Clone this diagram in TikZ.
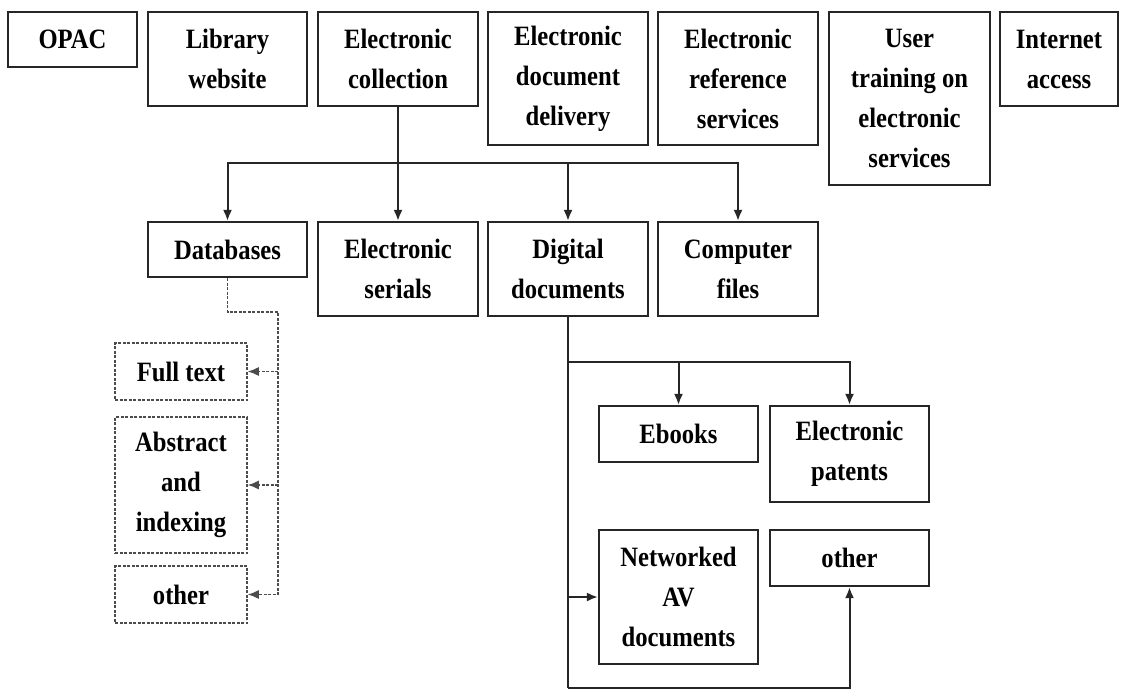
\documentclass[tikz,border=0pt]{standalone}
\usepackage{fontspec}
\setmainfont[FakeStretch=0.88]{Liberation Serif}
\usetikzlibrary{arrows.meta}

\begin{document}
\begin{tikzpicture}[x=1pt,y=-1pt,
  box/.style={draw, line width=2.2pt, draw=black!85, inner sep=0pt, align=center,
    font=\fontsize{28}{40}\selectfont\bfseries},
  dbox/.style={box, line width=1.5pt, draw=black!70, dash pattern=on 3pt off 1.5pt},
  link/.style={line width=2pt, draw=black!85, -{Latex[length=11pt,width=9pt]}},
  dlink/.style={link, line width=1.4pt, draw=black!70, dash pattern=on 3pt off 1.5pt}]
\useasboundingbox (0,0) rectangle (1126,699);

% top row of services
\node[box, minimum width=129pt, minimum height=55pt] (opac) at (72.5,39.5) {OPAC};
\node[box, minimum width=159pt, minimum height=94pt] (web) at (227.5,59) {Library\\website};
\node[box, minimum width=160pt, minimum height=94pt] (coll) at (398,59) {Electronic\\collection};
\node[box, minimum width=160pt, minimum height=133pt] (delivery) at (568,78.5) {Electronic\\document\\delivery};
\node[box, minimum width=160pt, minimum height=133pt] (refsrv) at (738,78.5) {Electronic\\reference\\services};
\node[box, minimum width=161pt, minimum height=173pt] (training) at (909.5,98.5) {User\\training on\\electronic\\services};
\node[box, minimum width=118pt, minimum height=94pt] (internet) at (1059,59) {Internet\\access};

% electronic collection
\node[box, minimum width=159pt, minimum height=55pt] (db) at (227.5,249.5) {Databases};
\node[box, minimum width=160pt, minimum height=94pt] (serials) at (398,269) {Electronic\\serials};
\node[box, minimum width=160pt, minimum height=94pt] (digital) at (568,269) {Digital\\documents};
\node[box, minimum width=160pt, minimum height=94pt] (compfiles) at (738,269) {Computer\\files};

\coordinate (bus) at (398,163);
\draw[link] (coll.south) -- (serials.north);
\draw[link] (bus) -| (db.north);
\draw[link] (bus) -| (compfiles.north);
\draw[link] (bus -| digital.north) -- (digital.north);

% databases
\node[dbox, minimum width=132pt, minimum height=57pt] (full) at (181,371.5) {Full text};
\node[dbox, minimum width=132pt, minimum height=136pt] (abstr) at (181,485) {Abstract\\and\\indexing};
\node[dbox, minimum width=132pt, minimum height=57pt] (othr1) at (181,594.5) {other};

\coordinate (dbturn) at (278,312);
\draw[dlink] (db.south) |- (dbturn) |- (othr1.east);
\draw[dlink] (dbturn |- full.east) -- (full.east);
\draw[dlink] (dbturn |- abstr.east) -- (abstr.east);

% digital documents
\node[box, minimum width=159pt, minimum height=56pt] (ebooks) at (678.5,434) {Ebooks};
\node[box, minimum width=159pt, minimum height=96pt] (patents) at (849.5,454) {Electronic\\patents};
\node[box, minimum width=159pt, minimum height=134pt] (avdocs) at (678.5,597) {Networked\\AV\\documents};
\node[box, minimum width=159pt, minimum height=56pt] (othr2) at (849.5,558) {other};

\coordinate (dbus) at (568,362);
\coordinate (dlow) at (568,688);
\draw[link, -] (digital.south) -- (dlow);
\draw[link] (dbus) -| (patents.north);
\draw[link] (dbus -| ebooks.north) -- (ebooks.north);
\draw[link] (dlow |- avdocs.west) -- (avdocs.west);
\draw[link] (dlow) -| (othr2.south);

\end{tikzpicture}
\end{document}
